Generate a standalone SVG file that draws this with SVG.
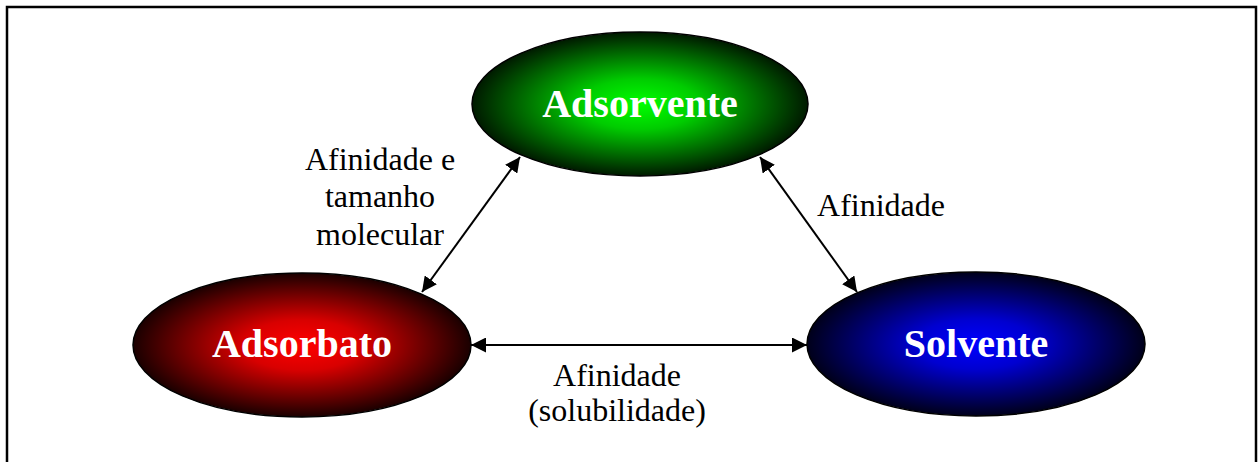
<svg xmlns="http://www.w3.org/2000/svg" width="1259" height="462" viewBox="0 0 1259 462">
  <style>
    .node-label { font-family: "Liberation Serif", "Times New Roman", serif; font-weight: bold; font-size: 40px; fill: #ffffff; text-anchor: middle; }
    .edge-label { font-family: "Liberation Serif", "Times New Roman", serif; font-size: 32px; fill: #000000; text-anchor: middle; }
    .node-shape { stroke: #000000; stroke-width: 1.5; }
    .link { stroke: #000000; stroke-width: 2; fill: none; marker-start: url(#head); marker-end: url(#head); }
  </style>
  <defs>
    <radialGradient id="gGreen" cx="50%" cy="50%" r="50%">
      <stop offset="0" stop-color="#00ff00"/>
      <stop offset="0.35" stop-color="#00cc00"/>
      <stop offset="1" stop-color="#001a00"/>
    </radialGradient>
    <radialGradient id="gRed" cx="50%" cy="50%" r="50%">
      <stop offset="0" stop-color="#ff0000"/>
      <stop offset="0.35" stop-color="#d80000"/>
      <stop offset="1" stop-color="#1a0000"/>
    </radialGradient>
    <radialGradient id="gBlue" cx="50%" cy="50%" r="50%">
      <stop offset="0" stop-color="#0000ff"/>
      <stop offset="0.35" stop-color="#0000d0"/>
      <stop offset="1" stop-color="#00001a"/>
    </radialGradient>
    <marker id="head" viewBox="0 0 10 10" refX="10" refY="5" markerWidth="15" markerHeight="15" markerUnits="userSpaceOnUse" orient="auto-start-reverse">
      <path d="M0,0 L10,5 L0,10 z" fill="#000000"/>
    </marker>
  </defs>

  <rect width="1259" height="462" fill="#ffffff"/>
  <!-- outer frame -->
  <rect x="7" y="7" width="1249" height="470" fill="none" stroke="#000000" stroke-width="2.5"/>

  <g id="connectors">
    <line class="link" x1="422" y1="292" x2="520" y2="157"/>
    <line class="link" x1="760" y1="157" x2="857" y2="292"/>
    <line class="link" x1="471" y1="345" x2="807" y2="345"/>
  </g>

  <g id="node-adsorvente">
    <ellipse class="node-shape" cx="640" cy="104" rx="168" ry="72" fill="url(#gGreen)"/>
    <text class="node-label" x="640" y="117">Adsorvente</text>
  </g>
  <g id="node-adsorbato">
    <ellipse class="node-shape" cx="302" cy="345" rx="169" ry="72" fill="url(#gRed)"/>
    <text class="node-label" x="302" y="357">Adsorbato</text>
  </g>
  <g id="node-solvente">
    <ellipse class="node-shape" cx="976" cy="344" rx="169" ry="72" fill="url(#gBlue)"/>
    <text class="node-label" x="976" y="357">Solvente</text>
  </g>

  <g id="edge-labels">
    <text class="edge-label" x="380" y="170">Afinidade e</text>
    <text class="edge-label" x="380" y="207">tamanho</text>
    <text class="edge-label" x="380" y="245">molecular</text>
    <text class="edge-label" x="881" y="216">Afinidade</text>
    <text class="edge-label" x="617" y="386">Afinidade</text>
    <text class="edge-label" x="617" y="421">(solubilidade)</text>
  </g>
</svg>
